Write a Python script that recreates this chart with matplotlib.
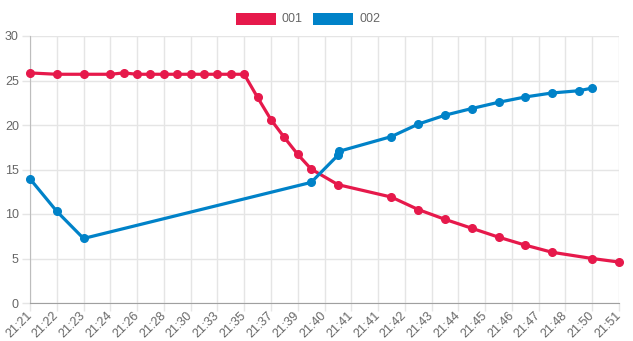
import matplotlib
matplotlib.use("Agg")
import matplotlib.pyplot as plt
from matplotlib.patches import Rectangle

# ---- data ----
tick_labels = ["21:21", "21:22", "21:23", "21:24", "21:26", "21:28", "21:30", "21:33",
               "21:35", "21:37", "21:39", "21:40", "21:41", "21:41", "21:42", "21:43",
               "21:44", "21:45", "21:46", "21:47", "21:48", "21:50", "21:51"]
tick_index = list(range(0, 45, 2))

series_names = ["001", "002"]
series_colors = ["#e6194b", "#0082c8"]

s001_x = [0, 2, 4, 6, 7, 8, 9, 10, 11, 12, 13, 14, 15, 16, 17, 18, 19, 20, 21,
          23, 27, 29, 31, 33, 35, 37, 39, 42, 44]
s001_y = [25.85, 25.7, 25.7, 25.7, 25.85, 25.7, 25.7, 25.7, 25.7, 25.7, 25.7, 25.7,
          25.7, 25.7, 23.1, 20.6, 18.6, 16.7, 15.05, 13.3, 11.9, 10.5, 9.4, 8.4,
          7.4, 6.5, 5.7, 5.0, 4.6]

s002_x = [0, 2, 4, 21, 23, 23.1, 27, 29, 31, 33, 35, 37, 39, 41, 42]
s002_y = [13.95, 10.3, 7.25, 13.55, 16.6, 17.05, 18.7, 20.1, 21.1, 21.85, 22.55,
          23.15, 23.6, 23.85, 24.15]

y_ticks = [0, 5, 10, 15, 20, 25, 30]

# ---- figure ----
plt.rcParams['font.family'] = ['Liberation Sans', 'DejaVu Sans']
W, H = 633, 341
fig = plt.figure(figsize=(W / 100, H / 100), dpi=100)
ax = fig.add_axes([30 / W, (H - 303) / H, (619 - 30) / W, (303 - 36) / H])

grid_c = "#e5e5e5"
text_c = "#666666"

for xs, ys, c in [(s001_x, s001_y, series_colors[0]), (s002_x, s002_y, series_colors[1])]:
    ax.plot(xs, ys, color=c, lw=2.3, marker="o", ms=5.5, mec=c, mfc=c,
            solid_joinstyle="round", zorder=3, clip_on=False)

ax.set_xlim(0, 44)
ax.set_ylim(0, 30)
ax.set_yticks(y_ticks)
ax.set_yticklabels([str(v) for v in y_ticks])
ax.set_xticks(tick_index)
ax.set_xticklabels(tick_labels, rotation=45, ha="right", va="center",
                   rotation_mode="anchor")

ax.grid(True, color=grid_c, lw=1)
ax.set_axisbelow(True)
for side in ["top", "right"]:
    ax.spines[side].set_visible(False)
ax.spines["left"].set_color("#bdbdbd")
ax.spines["bottom"].set_color("#a0a0a0")
ax.tick_params(axis="both", colors=grid_c, labelcolor=text_c, labelsize=9,
               length=6, width=1)
ax.tick_params(axis="x", pad=2)
ax.tick_params(axis="y", pad=2)

# ---- legend (Chart.js style) ----
box_w, box_h = 40, 12
xs0 = [236, 313]
for i, (name, c) in enumerate(zip(series_names, series_colors)):
    x0 = xs0[i]
    fig.patches.append(Rectangle((x0 / W, (H - 25) / H), box_w / W, box_h / H,
                                 transform=fig.transFigure, facecolor=c,
                                 edgecolor="none"))
    fig.text((x0 + box_w + 6) / W, (H - 19) / H, name, color=text_c, fontsize=9,
             ha="left", va="center")

fig.savefig("out.png", dpi=100)
